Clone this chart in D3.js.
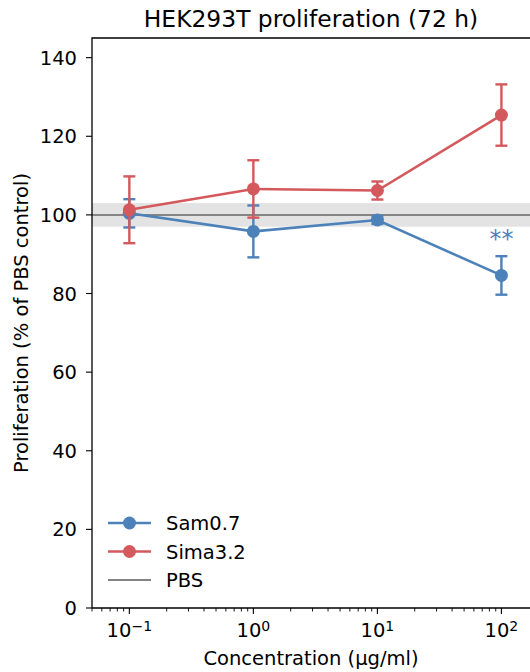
<!DOCTYPE html>
<html>
<head>
<meta charset="utf-8">
<script src="https://cdn.jsdelivr.net/npm/d3@7"></script>
<style>
  body { margin: 0; background: #fff; }
  svg { display: block; font-family: "DejaVu Sans", sans-serif; }
</style>
</head>
<body>
<div id="chart"></div>
<script>
// values
var concentrations = [0.1, 1, 10, 100];
var samMean = [100.4, 95.8, 98.7, 84.6];
var samErr = [3.6, 6.6, 1.0, 4.9];
var simaMean = [101.3, 106.6, 106.2, 125.4];
var simaErr = [8.5, 7.3, 2.3, 7.8];
var pbsLevel = 100;
var pbsSpread = 3;
var yTicks = [0, 20, 40, 60, 80, 100, 120, 140];
var xTickExps = [-1, 0, 1, 2];
var seriesNames = ["Sam0.7", "Sima3.2", "PBS"];
var sigMarks = [{x: 100, y: 84.6 + 4.9, label: "**"}];

var W = 530, H = 672;
var margin = {top: 38, right: 0, bottom: 64, left: 92};
var width = W - margin.left - margin.right,
    height = H - margin.top - margin.bottom;

var blue = "#4c81b9", red = "#d3595d", grey = "#858585";

var svg = d3.select("#chart").append("svg")
    .attr("width", W).attr("height", H);

var g = svg.append("g")
    .attr("transform", "translate(" + margin.left + "," + margin.top + ")");

var x = d3.scaleLog().domain([0.05, 170]).range([0, width]);
var y = d3.scaleLinear().domain([0, 145]).range([height, 0]);

// PBS band + line
g.append("rect")
    .attr("x", 0).attr("width", width)
    .attr("y", y(pbsLevel + pbsSpread))
    .attr("height", y(pbsLevel - pbsSpread) - y(pbsLevel + pbsSpread))
    .attr("fill", "#e3e3e3");
g.append("line")
    .attr("x1", 0).attr("x2", width)
    .attr("y1", y(pbsLevel)).attr("y2", y(pbsLevel))
    .attr("stroke", grey).attr("stroke-width", 2);

function drawSeries(mean, err, color) {
    var pts = concentrations.map(function(c, i) { return {c: c, m: mean[i], e: err[i]}; });
    var line = d3.line().x(function(d) { return x(d.c); }).y(function(d) { return y(d.m); });
    g.append("path").datum(pts)
        .attr("d", line).attr("fill", "none")
        .attr("stroke", color).attr("stroke-width", 2.6);
    var eb = g.append("g").attr("stroke", color).attr("stroke-width", 2.4);
    pts.forEach(function(d) {
        eb.append("line").attr("x1", x(d.c)).attr("x2", x(d.c))
            .attr("y1", y(d.m - d.e)).attr("y2", y(d.m + d.e));
        [d.m - d.e, d.m + d.e].forEach(function(v) {
            eb.append("line").attr("x1", x(d.c) - 6).attr("x2", x(d.c) + 6)
                .attr("y1", y(v)).attr("y2", y(v));
        });
    });
    g.selectAll(null).data(pts).enter().append("circle")
        .attr("cx", function(d) { return x(d.c); })
        .attr("cy", function(d) { return y(d.m); })
        .attr("r", 6.5).attr("fill", color);
}
drawSeries(samMean, samErr, blue);
drawSeries(simaMean, simaErr, red);

// significance
sigMarks.forEach(function(s) {
    g.append("text")
        .attr("x", x(s.x)).attr("y", y(s.y) - 9)
        .attr("text-anchor", "middle")
        .attr("fill", blue).attr("font-size", "24px")
        .text(s.label);
});

// spines
g.append("path")
    .attr("d", "M0," + height + "V0H" + width)
    .attr("fill", "none").attr("stroke", "#000").attr("stroke-width", 1.3);
g.append("line")
    .attr("x1", 0).attr("x2", width).attr("y1", height).attr("y2", height)
    .attr("stroke", "#000").attr("stroke-width", 1.3);

// y axis
var yAxis = g.append("g");
yTicks.forEach(function(t) {
    yAxis.append("line").attr("x1", -6).attr("x2", 0)
        .attr("y1", y(t)).attr("y2", y(t)).attr("stroke", "#000").attr("stroke-width", 1.1);
    yAxis.append("text").attr("x", -15).attr("y", y(t))
        .attr("dy", "0.36em").attr("text-anchor", "end")
        .attr("font-size", "19.5px").attr("fill", "#000").text(t);
});

// x axis, log ticks
var xAxis = g.append("g").attr("transform", "translate(0," + height + ")");
var minor = [];
for (var e = -2; e <= 2; e++) {
    for (var k = 2; k <= 9; k++) {
        var v = k * Math.pow(10, e);
        if (v >= 0.05 && v <= 170) minor.push(v);
    }
}
minor.forEach(function(v) {
    xAxis.append("line").attr("x1", x(v)).attr("x2", x(v))
        .attr("y1", 0).attr("y2", 3.5).attr("stroke", "#000").attr("stroke-width", 0.9);
});
xTickExps.forEach(function(p) {
    var v = Math.pow(10, p);
    xAxis.append("line").attr("x1", x(v)).attr("x2", x(v))
        .attr("y1", 0).attr("y2", 6).attr("stroke", "#000").attr("stroke-width", 1.1);
    var t = xAxis.append("text").attr("x", x(v)).attr("y", 29)
        .attr("text-anchor", "middle").attr("font-size", "19.5px").attr("fill", "#000");
    t.append("tspan").text("10");
    t.append("tspan").attr("dy", "-0.45em").attr("font-size", "14px")
        .text(p < 0 ? "\u2212" + Math.abs(p) : String(p));
});

// labels
svg.append("text")
    .attr("x", margin.left + width / 2).attr("y", 665)
    .attr("text-anchor", "middle").attr("font-size", "19.5px")
    .text("Concentration (\u00b5g/ml)");
svg.append("text")
    .attr("transform", "translate(28," + (margin.top + height / 2) + ") rotate(-90)")
    .attr("text-anchor", "middle").attr("font-size", "19.5px")
    .text("Proliferation (% of PBS control)");
svg.append("text")
    .attr("x", margin.left + width / 2).attr("y", 27)
    .attr("text-anchor", "middle").attr("font-size", "23.4px")
    .text("HEK293T proliferation (72 h)");

// legend
var legend = svg.append("g").attr("transform", "translate(108,523)");
var legColors = [blue, red, grey];
seriesNames.forEach(function(name, i) {
    var row = legend.append("g").attr("transform", "translate(0," + (i * 28.5) + ")");
    row.append("line").attr("x1", 0).attr("x2", 43).attr("y1", 0).attr("y2", 0)
        .attr("stroke", legColors[i]).attr("stroke-width", i < 2 ? 2.6 : 2);
    if (i < 2) row.append("circle").attr("cx", 21.5).attr("cy", 0).attr("r", 6.5).attr("fill", legColors[i]);
    row.append("text").attr("x", 58).attr("y", 0).attr("dy", "0.36em")
        .attr("font-size", "19.5px").text(name);
});
</script>
</body>
</html>
